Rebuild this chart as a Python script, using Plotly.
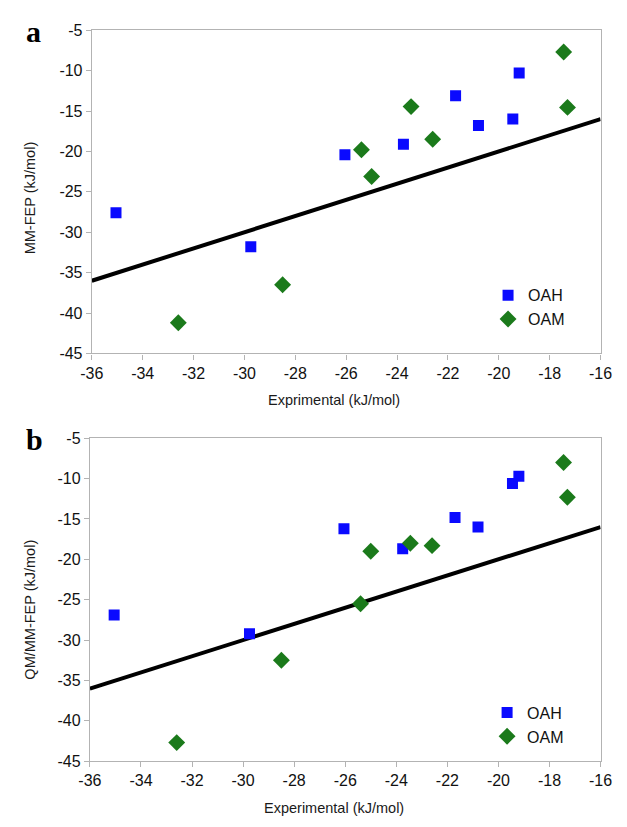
import plotly.graph_objects as go

# Experimental values (kJ/mol)
exp_oah = [-35.05, -29.75, -26.05, -23.75, -21.7, -20.8, -19.45, -19.2]
exp_oam = [-32.6, -28.5, -25.4, -25.0, -23.45, -22.6, -17.45, -17.3]

# Panel a: MM-FEP
mm_oah = [-27.6, -31.8, -20.4, -19.1, -13.1, -16.8, -16.0, -10.3]
mm_oam = [-41.2, -36.5, -19.8, -23.1, -14.45, -18.5, -7.7, -14.55]

# Panel b: QM/MM-FEP
qm_oah = [-26.9, -29.2, -16.2, -18.7, -14.8, -16.0, -10.6, -9.7]
qm_oam = [-42.7, -32.5, -25.5, -19.0, -18.0, -18.3, -8.0, -12.3]

# y = x reference line
identity_line = [-36, -16]

x_ticks = list(range(-36, -15, 2))
y_ticks = list(range(-45, -4, 5))
x_ticktext = [str(v) for v in x_ticks]
y_ticktext = [str(v) for v in y_ticks]

W, H = 627, 827
BLUE = "#0a0aff"
GREEN = "#1b7a1b"
AXC = "#b3b3b3"
FONT = "Liberation Sans"


def px(x):
    return x / W


def py(y):
    return 1 - y / H


fig = go.Figure()

panels = [
    ("x", "y", mm_oah, mm_oam, "legend"),
    ("x2", "y2", qm_oah, qm_oam, "legend2"),
]
for xa, ya, oah, oam, lg in panels:
    fig.add_trace(go.Scatter(
        x=identity_line, y=identity_line, mode="lines",
        line=dict(color="black", width=4), showlegend=False,
        xaxis=xa, yaxis=ya, hoverinfo="skip"))
    fig.add_trace(go.Scatter(
        x=exp_oah, y=oah, mode="markers", name="OAH",
        marker=dict(symbol="square", size=11, color=BLUE),
        xaxis=xa, yaxis=ya, legend=lg))
    fig.add_trace(go.Scatter(
        x=exp_oam, y=oam, mode="markers", name="OAM",
        marker=dict(symbol="diamond", size=13, color=GREEN),
        xaxis=xa, yaxis=ya, legend=lg))

axis_common = dict(
    showline=True, mirror=True, linecolor=AXC, linewidth=1.2,
    ticks="outside", ticklen=5, tickcolor=AXC, tickwidth=1.2,
    showgrid=False, zeroline=False,
    tickfont=dict(family=FONT, size=16, color="#111111"),
)

legend_font = dict(family=FONT, size=16, color="#111111")

fig.update_layout(
    width=W, height=H,
    margin=dict(l=0, r=0, t=0, b=0),
    paper_bgcolor="white", plot_bgcolor="white",
    xaxis=dict(domain=[px(83), px(612)], range=[-36, -16], tickvals=x_ticks,
               ticktext=x_ticktext, anchor="y", **axis_common),
    yaxis=dict(domain=[py(352.7), py(22.7)], range=[-45, -5], tickvals=y_ticks,
               ticktext=y_ticktext, anchor="x", **axis_common),
    xaxis2=dict(domain=[px(81), px(612)], range=[-36, -16], tickvals=x_ticks,
                ticktext=x_ticktext, anchor="y2", **axis_common),
    yaxis2=dict(domain=[py(769), py(439.3)], range=[-45, -5], tickvals=y_ticks,
                ticktext=y_ticktext, anchor="x2", **axis_common),
    legend=dict(x=px(495), y=py(276), xanchor="left", yanchor="top",
                font=legend_font, bgcolor="rgba(0,0,0,0)", tracegroupgap=0),
    legend2=dict(x=px(494), y=py(702), xanchor="left", yanchor="top",
                 font=legend_font, bgcolor="rgba(0,0,0,0)", tracegroupgap=0),
    showlegend=True,
)

title_font = dict(family=FONT, size=14.5, color="#1a1a1a")
annotations = [
    dict(text="Exprimental (kJ/mol)", x=px(335), y=py(400.7)),
    dict(text="Experimental (kJ/mol)", x=px(335), y=py(816.7)),
    dict(text="MM-FEP (kJ/mol)", x=px(19), y=py(194), textangle=-90),
    dict(text="QM/MM-FEP (kJ/mol)", x=px(19), y=py(614), textangle=-90),
]
for a in annotations:
    fig.add_annotation(xref="paper", yref="paper", showarrow=False,
                       xanchor="center", yanchor="middle", font=title_font, **a)

label_font = dict(family="Liberation Serif", size=30, color="black")
for txt, x, y in [("<b>a</b>", 22, 24), ("<b>b</b>", 23, 441)]:
    fig.add_annotation(text=txt, xref="paper", yref="paper", x=px(x), y=py(y),
                       showarrow=False, xanchor="center", yanchor="middle",
                       font=label_font)

fig.write_html(
    "out.html",
    config={"displayModeBar": False},
    post_script="document.body.style.margin='0';document.body.style.overflow='hidden';",
)
